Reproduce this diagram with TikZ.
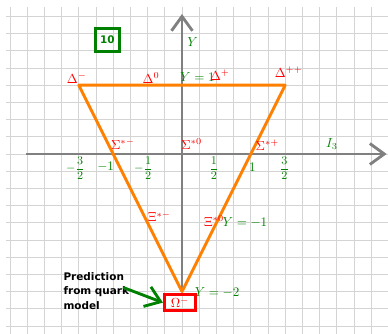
\documentclass[tikz,border=0pt]{standalone}
\usepackage{fontspec}
\usetikzlibrary{arrows.meta}
\newfontfamily\notefont{DejaVu Sans}
\definecolor{axisgray}{RGB}{128,128,128}
\definecolor{gridgray}{RGB}{212,212,212}
\definecolor{lineorange}{RGB}{255,128,0}
\definecolor{labelgreen}{RGB}{0,128,0}
\definecolor{labelred}{RGB}{255,0,0}

\begin{document}
\begin{tikzpicture}[x=1.85cm, y=1.85cm,
  axis/.style={line width=2.2pt, axisgray, -{Straight Barb[length=11pt, width=16pt]}},
  edge/.style={line width=2.2pt, lineorange, line join=round},
  particle/.style={text=labelred, inner sep=1pt},
  qnum/.style={text=labelgreen, inner sep=1pt},
  fracnum/.style={text=labelgreen, inner sep=1pt, font=\small},
  pointer/.style={line width=2.2pt, labelgreen, -{Straight Barb[length=11pt, width=16pt]}}]
  \useasboundingbox (-2.645,-2.602) rectangle (2.994,2.238);
  \draw[gridgray, line width=0.6pt, step=0.25] (-2.56,-2.61) grid (3.0,2.14);

  \coordinate (xstart) at (-2.27,0);
  \coordinate (xend) at (2.975,0);
  \coordinate (ystart) at (0,-2);
  \coordinate (yend) at (0,2.035);
  \draw[axis] (xstart) -- (xend);
  \draw[axis] (ystart) -- (yend);

  \coordinate (dminus) at (-1.5,1);
  \coordinate (dplusplus) at (1.5,1);
  \coordinate (omegatip) at (0,-2);
  \draw[edge] (dminus) -- (dplusplus) -- (omegatip) -- cycle;

  \node[draw=labelgreen, line width=2pt, text=labelgreen, font=\notefont\bfseries\footnotesize, minimum size=18pt, inner sep=1pt] (tenbox) at (-1.083,1.657) {10};

  \node[qnum] (ylabel) at (0.155,1.62) {$Y$};
  \node[qnum] (ilabel) at (2.18,0.145) {$I_3$};
  \node[qnum] (yone) at (0.225,1.12) {$Y=1$};
  \node[qnum] (yminusone) at (0.915,-1.0) {$Y=-1$};
  \node[qnum] (yminustwo) at (0.51,-2.02) {$Y=-2$};

  \node[particle] (deltaminus) at (-1.53,1.10) {$\Delta^{-}$};
  \node[particle] (deltazero) at (-0.45,1.10) {$\Delta^{0}$};
  \node[particle] (deltaplus) at (0.55,1.15) {$\Delta^{+}$};
  \node[particle] (deltaplusplus) at (1.55,1.19) {$\Delta^{++}$};
  \node[particle] (sigmaminus) at (-0.86,0.145) {$\Sigma^{*-}$};
  \node[particle] (sigmazero) at (0.14,0.14) {$\Sigma^{*0}$};
  \node[particle] (sigmaplus) at (1.24,0.13) {$\Sigma^{*+}$};
  \node[particle] (ximinus) at (-0.33,-0.91) {$\Xi^{*-}$};
  \node[particle] (xizero) at (0.465,-0.975) {$\Xi^{*0}$};

  \node[fracnum] (tickmthreehalf) at (-1.55,-0.208) {$\displaystyle -\frac{3}{2}$};
  \node[qnum] (tickmone) at (-1.11,-0.19) {$-1$};
  \node[fracnum] (tickmhalf) at (-0.56,-0.208) {$\displaystyle -\frac{1}{2}$};
  \node[fracnum] (tickhalf) at (0.465,-0.208) {$\displaystyle \frac{1}{2}$};
  \node[qnum] (tickone) at (1.025,-0.19) {$1$};
  \node[fracnum] (tickthreehalf) at (1.49,-0.208) {$\displaystyle \frac{3}{2}$};

  \node[draw=labelred, line width=2pt, text=labelred, minimum width=24pt, minimum height=12.5pt, inner sep=1pt] (omega) at (-0.03,-2.16) {$\Omega^{-}$};

  \node[font=\notefont\bfseries\fontsize{8}{11}\selectfont, align=left, inner sep=0pt] (prediction) at (-1.245,-1.99) {Prediction\\from quark\\model};
  \coordinate (arrowstart) at (-0.855,-1.94);
  \draw[pointer] (arrowstart) -- (omega.west);
\end{tikzpicture}
\end{document}
